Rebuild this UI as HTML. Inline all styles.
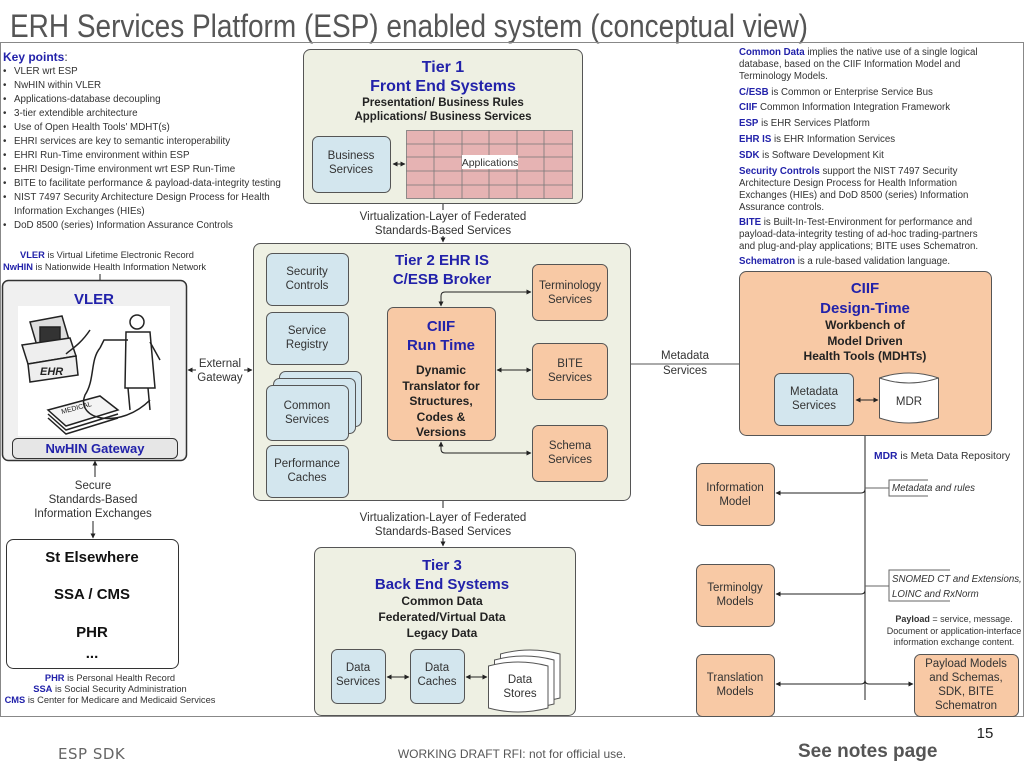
<!DOCTYPE html>
<html><head><meta charset="utf-8"><style>
html,body{margin:0;padding:0;background:#fff;}
svg{display:block;font-family:"Liberation Sans",Arial,sans-serif;}
.b{fill:#2222aa;font-weight:bold}
.k{font-size:9.8px;fill:#333}
.d{font-size:9.7px;fill:#333}
.bx{font-size:11.5px;fill:#333}
</style></head><body>
<svg width="1024" height="768" viewBox="0 0 1024 768" xmlns="http://www.w3.org/2000/svg">
<defs>
<marker id="a" viewBox="0 0 10 10" refX="9" refY="5" markerWidth="5" markerHeight="5" orient="auto-start-reverse"><path d="M0,0L10,5L0,10z" fill="#222"/></marker>
</defs>
<text x="10" y="37" font-size="32" fill="#555" textLength="798" lengthAdjust="spacingAndGlyphs">ERH Services Platform (ESP) enabled system (conceptual view)</text>
<rect x="0.5" y="42.5" width="1023" height="674" fill="none" stroke="#888" stroke-width="1"/>

<text x="3" y="61" font-size="12" class="b">Key points<tspan fill="#333" font-weight="normal">:</tspan></text>
<g class="k">
<text x="3" y="74">•</text><text x="14" y="74">VLER wrt ESP</text>
<text x="3" y="88">•</text><text x="14" y="88">NwHIN within VLER</text>
<text x="3" y="102">•</text><text x="14" y="102">Applications-database decoupling</text>
<text x="3" y="116">•</text><text x="14" y="116">3-tier extendible architecture</text>
<text x="3" y="130">•</text><text x="14" y="130">Use of Open Health Tools' MDHT(s)</text>
<text x="3" y="144">•</text><text x="14" y="144">EHRI services are key to semantic interoperability</text>
<text x="3" y="158">•</text><text x="14" y="158">EHRI Run-Time environment within ESP</text>
<text x="3" y="172">•</text><text x="14" y="172">EHRI Design-Time environment wrt ESP Run-Time</text>
<text x="3" y="186">•</text><text x="14" y="186">BITE to facilitate performance &amp; payload-data-integrity testing</text>
<text x="3" y="200">•</text><text x="14" y="200">NIST 7497 Security Architecture Design Process for Health</text>
<text x="14" y="214">Information Exchanges (HIEs)</text>
<text x="3" y="228">•</text><text x="14" y="228">DoD 8500 (series) Information Assurance Controls</text>
</g>
<g font-size="9.3" fill="#333">
<text x="20" y="258"><tspan class="b">VLER</tspan> is Virtual Lifetime Electronic Record</text>
<text x="3" y="270"><tspan class="b">NwHIN</tspan> is Nationwide Health Information Network</text>
</g>

<g class="d">
<text x="739" y="55"><tspan class="b">Common Data</tspan> implies the native use of a single logical</text>
<text x="739" y="67">database, based on the CIIF Information Model and</text>
<text x="739" y="79">Terminology Models.</text>
<text x="739" y="95"><tspan class="b">C/ESB</tspan> is Common or Enterprise Service Bus</text>
<text x="739" y="110"><tspan class="b">CIIF</tspan> Common Information Integration Framework</text>
<text x="739" y="126"><tspan class="b">ESP</tspan> is EHR Services Platform</text>
<text x="739" y="142"><tspan class="b">EHR IS</tspan> is EHR Information Services</text>
<text x="739" y="158"><tspan class="b">SDK</tspan> is Software Development Kit</text>
<text x="739" y="174"><tspan class="b">Security Controls</tspan> support the NIST 7497 Security</text>
<text x="739" y="186">Architecture Design Process for Health Information</text>
<text x="739" y="198">Exchanges (HIEs) and DoD 8500 (series) Information</text>
<text x="739" y="210">Assurance controls.</text>
<text x="739" y="225"><tspan class="b">BITE</tspan> is Built-In-Test-Environment for performance and</text>
<text x="739" y="237">payload-data-integrity testing of ad-hoc trading-partners</text>
<text x="739" y="249">and plug-and-play applications; BITE uses Schematron.</text>
<text x="739" y="264"><tspan class="b">Schematron</tspan> is a rule-based validation language.</text>
</g>

<rect x="303.5" y="49.5" width="279" height="154" rx="7" fill="#eef0e3" stroke="#555"/>
<text x="443" y="72" text-anchor="middle" font-size="16" class="b">Tier 1</text>
<text x="443" y="91" text-anchor="middle" font-size="16" class="b">Front End Systems</text>
<text x="443" y="106" text-anchor="middle" font-size="11.5" font-weight="bold" fill="#222">Presentation/ Business Rules</text>
<text x="443" y="120" text-anchor="middle" font-size="11.5" font-weight="bold" fill="#222">Applications/ Business Services</text>
<rect x="312.5" y="136.5" width="78" height="56" rx="6" fill="#d3e6ee" stroke="#555"/>
<text x="351" y="159" text-anchor="middle" class="bx">Business</text>
<text x="351" y="173" text-anchor="middle" class="bx">Services</text>
<g stroke="#777" stroke-width="0.8">
<rect x="406.5" y="130.5" width="166" height="68" fill="#e6b3b3"/>
<line x1="434" y1="130" x2="434" y2="199"/><line x1="462" y1="130" x2="462" y2="199"/><line x1="489" y1="130" x2="489" y2="199"/><line x1="517" y1="130" x2="517" y2="199"/><line x1="544" y1="130" x2="544" y2="199"/>
<line x1="406" y1="144" x2="573" y2="144"/><line x1="406" y1="157" x2="573" y2="157"/><line x1="406" y1="171" x2="573" y2="171"/><line x1="406" y1="185" x2="573" y2="185"/>
</g>
<rect x="462" y="155" width="56" height="14" fill="#fff"/>
<text x="490" y="166" text-anchor="middle" font-size="10.5" fill="#333">Applications</text>
<line x1="393" y1="164" x2="405" y2="164" stroke="#222" marker-start="url(#a)" marker-end="url(#a)"/>

<line x1="443" y1="204" x2="443" y2="210" stroke="#222"/>
<text x="443" y="220" text-anchor="middle" class="bx">Virtualization-Layer of Federated</text>
<text x="443" y="234" text-anchor="middle" class="bx">Standards-Based Services</text>
<line x1="443" y1="236" x2="443" y2="242" stroke="#222" marker-end="url(#a)"/>

<rect x="253.5" y="243.5" width="377" height="257" rx="7" fill="#eef0e3" stroke="#555"/>
<text x="442" y="265" text-anchor="middle" font-size="15" class="b">Tier 2 EHR IS</text>
<text x="442" y="284" text-anchor="middle" font-size="15" class="b">C/ESB Broker</text>
<g fill="#d3e6ee" stroke="#555">
<rect x="266.5" y="253.5" width="82" height="52" rx="6"/>
<rect x="266.5" y="312.5" width="82" height="52" rx="6"/>
<rect x="279.5" y="371.5" width="82" height="55" rx="6"/>
<rect x="273.5" y="378.5" width="82" height="55" rx="6"/>
<rect x="266.5" y="385.5" width="82" height="55" rx="6"/>
<rect x="266.5" y="445.5" width="82" height="52" rx="6"/>
</g>
<g class="bx" text-anchor="middle">
<text x="307" y="275">Security</text><text x="307" y="289">Controls</text>
<text x="307" y="334">Service</text><text x="307" y="348">Registry</text>
<text x="307" y="409">Common</text><text x="307" y="423">Services</text>
<text x="307" y="467">Performance</text><text x="307" y="481">Caches</text>
</g>
<rect x="387.5" y="307.5" width="108" height="133" rx="6" fill="#f8c9a5" stroke="#555"/>
<text x="441" y="331" text-anchor="middle" font-size="15" class="b">CIIF</text>
<text x="441" y="350" text-anchor="middle" font-size="15" class="b">Run Time</text>
<g text-anchor="middle" font-size="12" font-weight="bold" fill="#222">
<text x="441" y="374">Dynamic</text><text x="441" y="390">Translator for</text><text x="441" y="405">Structures,</text><text x="441" y="421">Codes &amp;</text><text x="441" y="436">Versions</text>
</g>
<g fill="#f8c9a5" stroke="#555">
<rect x="532.5" y="264.5" width="75" height="56" rx="6"/>
<rect x="532.5" y="343.5" width="75" height="56" rx="6"/>
<rect x="532.5" y="425.5" width="75" height="56" rx="6"/>
</g>
<g class="bx" text-anchor="middle">
<text x="570" y="289">Terminology</text><text x="570" y="303">Services</text>
<text x="570" y="367">BITE</text><text x="570" y="381">Services</text>
<text x="570" y="449">Schema</text><text x="570" y="463">Services</text>
</g>
<g fill="none" stroke="#222">
<path d="M441,306 V296 Q441,292 445,292 H531" marker-start="url(#a)" marker-end="url(#a)"/>
<line x1="497" y1="370" x2="531" y2="370" marker-start="url(#a)" marker-end="url(#a)"/>
<path d="M441,442 V449 Q441,453 445,453 H531" marker-start="url(#a)" marker-end="url(#a)"/>
</g>

<line x1="443" y1="501" x2="443" y2="508" stroke="#222"/>
<text x="443" y="521" text-anchor="middle" class="bx">Virtualization-Layer of Federated</text>
<text x="443" y="535" text-anchor="middle" class="bx">Standards-Based Services</text>
<line x1="443" y1="538" x2="443" y2="546" stroke="#222" marker-end="url(#a)"/>

<rect x="314.5" y="547.5" width="261" height="168" rx="7" fill="#eef0e3" stroke="#555"/>
<text x="442" y="570" text-anchor="middle" font-size="15" class="b">Tier 3</text>
<text x="442" y="589" text-anchor="middle" font-size="15" class="b">Back End Systems</text>
<g text-anchor="middle" font-size="12" font-weight="bold" fill="#222">
<text x="442" y="605">Common Data</text><text x="442" y="621">Federated/Virtual Data</text><text x="442" y="637">Legacy Data</text>
</g>
<g fill="#d3e6ee" stroke="#555">
<rect x="331.5" y="649.5" width="54" height="54" rx="6"/>
<rect x="410.5" y="649.5" width="54" height="54" rx="6"/>
</g>
<g fill="#fff" stroke="#555">
<path d="M500.5,654 Q530,646 560,654 V698 Q530,706 500.5,698 Z"/>
<path d="M494.5,660 Q524,652 554,660 V704 Q524,712 494.5,704 Z"/>
<path d="M488.5,666 Q518,658 548,666 V708 Q518,716 488.5,708 Z"/>
</g>
<g class="bx" text-anchor="middle">
<text x="358" y="671">Data</text><text x="358" y="685">Services</text>
<text x="437" y="671">Data</text><text x="437" y="685">Caches</text>
<text x="520" y="683">Data</text><text x="520" y="697">Stores</text>
</g>
<line x1="387" y1="677" x2="409" y2="677" stroke="#222" marker-start="url(#a)" marker-end="url(#a)"/>
<line x1="466" y1="677" x2="487" y2="677" stroke="#222" marker-start="url(#a)" marker-end="url(#a)"/>

<rect x="2.5" y="280.5" width="184" height="180" rx="6" fill="#f0f0f0" stroke="#333" stroke-width="1.5"/>
<line x1="100" y1="274" x2="100" y2="280" stroke="#222"/>
<text x="94" y="304" text-anchor="middle" font-size="15" class="b">VLER</text>
<rect x="18" y="306" width="152" height="130" fill="#fff"/>
<g fill="none" stroke="#222" stroke-width="1.5">
<path d="M30,322 L62,316 L72,350 L40,356 Z" fill="#ddd"/>
<rect x="40" y="327" width="20" height="20" fill="#333"/>
<path d="M22,345 L70,338 L76,356 L28,364 Z" fill="#eee"/>
<path d="M28,364 L76,356 L78,375 L30,382 Z" fill="#eee"/>
<text x="40" y="375" font-size="11" font-style="italic" fill="#222" stroke="none" font-weight="bold">EHR</text>
<path d="M48,410 L100,396 L118,410 L66,426 Z" fill="#f4f4f4"/>
<path d="M48,414 L66,430 L118,414"/><path d="M48,418 L66,434 L118,418"/>
<text x="62" y="414" font-size="7" fill="#222" stroke="none" transform="rotate(-15 62 414)">MEDICAL</text>
<circle cx="137" cy="322" r="7" fill="#fff"/>
<path d="M126,332 L150,332 L155,388 L125,388 Z" fill="#fff"/>
<path d="M128,388 L130,410 M148,388 L150,410"/>
<path d="M128,340 L104,340 L100,348"/>
<path d="M150,342 L160,360"/>
<path d="M100,348 C90,360 95,380 85,395 C75,420 120,430 150,400"/>
<path d="M90,330 C80,345 70,350 66,354"/>
</g>
<rect x="12.5" y="438.5" width="165" height="20" rx="5" fill="#e6e6e6" stroke="#333"/>
<text x="95" y="453" text-anchor="middle" font-size="13" class="b">NwHIN Gateway</text>

<text x="220" y="367" text-anchor="middle" class="bx">External</text>
<text x="220" y="381" text-anchor="middle" class="bx">Gateway</text>
<line x1="196" y1="370" x2="188" y2="370" stroke="#222" marker-end="url(#a)"/>
<line x1="244" y1="370" x2="252" y2="370" stroke="#222" marker-end="url(#a)"/>

<line x1="95" y1="477" x2="95" y2="461" stroke="#222" marker-end="url(#a)"/>
<g class="bx" text-anchor="middle">
<text x="93" y="489">Secure</text><text x="93" y="503">Standards-Based</text><text x="93" y="517">Information Exchanges</text>
</g>
<line x1="93" y1="521" x2="93" y2="538" stroke="#222" marker-end="url(#a)"/>

<rect x="6.5" y="539.5" width="172" height="129" rx="7" fill="#fff" stroke="#333"/>
<g text-anchor="middle" font-size="15" font-weight="bold" fill="#111">
<text x="92" y="562">St Elsewhere</text><text x="92" y="599">SSA / CMS</text><text x="92" y="637">PHR</text><text x="92" y="658">...</text>
</g>
<g font-size="9.3" fill="#333" text-anchor="middle">
<text x="110" y="681"><tspan class="b">PHR</tspan> is Personal Health Record</text>
<text x="110" y="692"><tspan class="b">SSA</tspan> is Social Security Administration</text>
<text x="110" y="703"><tspan class="b">CMS</tspan> is Center for Medicare and Medicaid Services</text>
</g>

<line x1="631" y1="364" x2="739" y2="364" stroke="#555"/>
<text x="685" y="359" text-anchor="middle" class="bx">Metadata</text>
<text x="685" y="374" text-anchor="middle" class="bx">Services</text>

<rect x="739.5" y="271.5" width="252" height="164" rx="7" fill="#f8c9a5" stroke="#555"/>
<text x="865" y="293" text-anchor="middle" font-size="15" class="b">CIIF</text>
<text x="865" y="313" text-anchor="middle" font-size="15" class="b">Design-Time</text>
<g text-anchor="middle" font-size="12" font-weight="bold" fill="#222">
<text x="865" y="329">Workbench of</text><text x="865" y="345">Model Driven</text><text x="865" y="360">Health Tools (MDHTs)</text>
</g>
<rect x="774.5" y="373.5" width="79" height="52" rx="6" fill="#d3e6ee" stroke="#555"/>
<text x="814" y="395" text-anchor="middle" class="bx">Metadata</text>
<text x="814" y="409" text-anchor="middle" class="bx">Services</text>
<path d="M879.5,378 Q909,368 938.5,378 V418 Q909,428 879.5,418 Z" fill="#fff" stroke="#555"/>
<path d="M879.5,378 Q909,388 938.5,378" fill="none" stroke="#555"/>
<text x="909" y="405" text-anchor="middle" class="bx">MDR</text>
<line x1="856" y1="400" x2="878" y2="400" stroke="#222" marker-start="url(#a)" marker-end="url(#a)"/>

<text x="874" y="459" font-size="10.3" fill="#333"><tspan class="b">MDR</tspan> is Meta Data Repository</text>
<g fill="none" stroke="#222">
<line x1="865" y1="436" x2="865" y2="700"/>
<path d="M865,489 Q865,493 861,493 H776" marker-end="url(#a)"/>
<path d="M865,590 Q865,594 861,594 H776" marker-end="url(#a)"/>
<path d="M865,680 Q865,684 861,684 H776" marker-end="url(#a)"/>
<path d="M865,680 Q865,684 869,684 H913" marker-end="url(#a)"/>
</g>
<g fill="none" stroke="#666">
<path d="M865,488 H889 M928,480 H889 V496 H928"/>
<path d="M865,586 H889 M950,570 H889 V601 H950"/>
</g>
<text x="892" y="491" font-size="9.7" font-style="italic" fill="#333">Metadata and rules</text>
<text x="892" y="582" font-size="9.7" font-style="italic" fill="#333">SNOMED CT and Extensions,</text>
<text x="892" y="597" font-size="9.7" font-style="italic" fill="#333">LOINC and RxNorm</text>
<g font-size="9" fill="#333" text-anchor="middle">
<text x="954" y="622"><tspan font-weight="bold">Payload</tspan> = service, message.</text>
<text x="954" y="634">Document or application-interface</text>
<text x="954" y="645">information exchange content.</text>
</g>
<g fill="#f8c9a5" stroke="#555">
<rect x="696.5" y="463.5" width="78" height="62" rx="6"/>
<rect x="696.5" y="564.5" width="78" height="62" rx="6"/>
<rect x="696.5" y="654.5" width="78" height="62" rx="6"/>
<rect x="914.5" y="654.5" width="104" height="62" rx="6"/>
</g>
<g class="bx" text-anchor="middle">
<text x="735" y="491">Information</text><text x="735" y="505">Model</text>
<text x="735" y="591">Terminolgy</text><text x="735" y="605">Models</text>
<text x="735" y="681">Translation</text><text x="735" y="695">Models</text>
<text x="966" y="667">Payload Models</text><text x="966" y="681">and Schemas,</text><text x="966" y="695">SDK, BITE</text><text x="966" y="709">Schematron</text>
</g>

<text x="58" y="759" font-size="15" fill="#666" font-family="'DejaVu Sans',sans-serif" letter-spacing="0.5">ESP SDK</text>
<text x="512" y="758" text-anchor="middle" font-size="12" fill="#555">WORKING DRAFT RFI: not for official use.</text>
<text x="985" y="738" text-anchor="middle" font-size="15" fill="#222">15</text>
<text x="798" y="757" font-size="19" font-weight="bold" fill="#555">See notes page</text>
</svg>
</body></html>
